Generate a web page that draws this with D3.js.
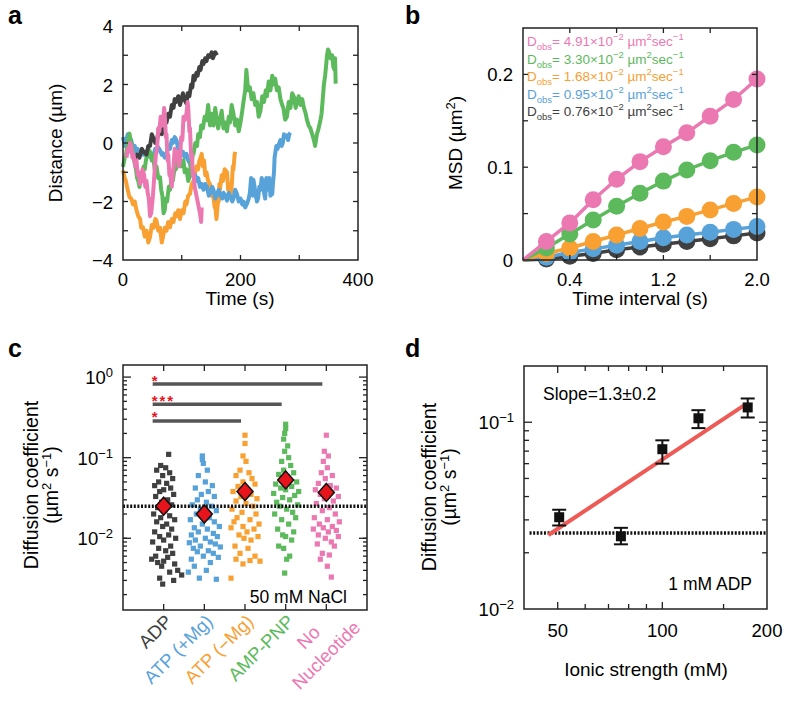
<!DOCTYPE html>
<html><head><meta charset="utf-8">
<script src="https://cdn.jsdelivr.net/npm/d3@7"></script>
<style>body{margin:0;background:#fff}svg{font-family:"Liberation Sans",Arial,sans-serif}</style>
</head><body><svg id="c" width="788" height="710"></svg>
<script>
// ---------- DATA ----------
const colors = {black:"#404040", blue:"#58a2da", orange:"#f8a032", green:"#5cba5c", pink:"#ec78b2"};
// panel a traces [time s, distance um]
const traceBlack = [[18,-0.6],[24,-0.4],[28,-0.5],[32,-0.2],[35,-0.3],[40,-0.4],[43,-0.1],[46,-0.1],[49,0.3],[51,0.2],[55,0.0],[58,0.1],[61,0.5],[63,0.45],[66,0.3],[68,0.4],[71,0.8],[74,0.7],[77,1.0],[80,0.9],[83,1.3],[86,1.2],[88,1.5],[90,1.4],[94,1.6],[97,1.3],[99,1.45],[102,1.7],[104,1.5],[108,1.35],[110,1.7],[113,1.6],[116,2.0],[118,1.9],[120,2.3],[122,2.15],[125,2.4],[127,2.3],[130,2.6],[132,2.5],[135,2.8],[137,2.7],[140,2.9],[142,2.8],[145,3.0],[148,2.95],[151,3.1],[153,2.9],[157,3.1],[160,3.0]];
const tracePink = [[6,-0.5],[8,-0.2],[10,-0.3],[12,0.0],[14,-0.1],[16,-0.5],[18,-0.4],[21,-0.8],[23,-0.6],[25,-1.1],[27,-1.0],[29,-1.4],[31,-1.3],[33,-0.9],[36,-1.1],[38,-1.5],[40,-1.3],[42,-1.7],[44,-1.9],[46,-2.5],[48,-2.4],[50,-2.0],[51,-1.8],[53,-1.2],[54,-0.9],[56,-0.4],[58,-0.2],[60,0.5],[62,0.4],[64,0.9],[65,0.8],[68,0.6],[70,1.2],[71,1.0],[73,0.2],[74,0.3],[76,-0.6],[77,-0.4],[79,-1.1],[80,-1.0],[83,-1.5],[85,-1.0],[86,-0.8],[88,-0.2],[90,-0.5],[92,-0.3],[95,-0.8],[97,-0.6],[99,0.2],[101,0.1],[103,0.9],[105,0.78],[108,1.0],[110,1.4],[111,1.23],[113,0.4],[114,0.5],[116,-0.5],[117,-0.37],[119,-1.1],[120,-1.0],[122,-1.5],[124,-1.7],[126,-1.9],[128,-2.1],[131,-2.4],[133,-2.7],[134,-2.2]];
const traceBlue = [[0,0.2],[3,-0.1],[5,0.05],[8,0.3],[11,0.0],[14,0.1],[17,-0.2],[20,-0.1],[22,-0.3],[25,-0.2],[28,-0.37],[31,-0.3],[35,-0.4],[38,-0.3],[40,-0.45],[43,-0.35],[46,-0.48],[49,-0.4],[52,-0.4],[55,-0.2],[57,-0.3],[60,-0.15],[63,-0.25],[66,-0.4],[68,-0.35],[71,-0.5],[74,-0.4],[77,-0.1],[80,-0.2],[83,0.1],[85,0.0],[88,0.2],[91,0.1],[94,-0.2],[96,-0.1],[99,-0.4],[102,-0.3],[105,-0.5],[108,-0.37],[111,-0.6],[114,-0.7],[117,-1.0],[120,-1.17],[123,-1.1],[126,-1.3],[128,-1.2],[131,-1.5],[134,-1.4],[137,-1.6],[140,-1.4],[143,-1.5],[146,-1.8],[149,-1.7],[152,-1.5],[154,-1.6],[157,-1.9],[160,-1.74],[163,-1.6],[166,-1.8],[169,-1.9],[171,-1.7],[174,-1.8],[177,-1.97],[180,-1.7],[183,-1.85],[186,-2.0],[188,-1.9],[191,-1.6],[194,-1.74],[197,-2.0],[200,-1.9],[203,-2.1],[205,-2.0],[208,-2.2],[211,-2.08],[214,-1.9],[216,-1.7],[218,-1.2],[219,-1.4],[221,-1.8],[222,-1.26],[224,-1.5],[226,-1.8],[228,-2.0],[230,-1.9],[232,-1.5],[234,-1.6],[236,-1.2],[238,-1.3],[240,-1.7],[242,-1.9],[244,-1.2],[245,-1.4],[247,-1.6],[249,-1.2],[251,-1.8],[254,-1.74],[256,-1.2],[257,-1.0],[258,-0.5],[259,-0.37],[261,-0.1],[263,-0.2],[266,0.0],[268,0.1],[270,-0.1],[272,0.0],[274,0.3],[276,0.2],[279,0.26],[281,0.1],[283,0.3],[285,0.35]];
const traceGreen = [[0,-0.82],[3,-0.5],[5,-0.4],[8,0.0],[11,0.32],[13,0.1],[15,-0.1],[18,-0.5],[20,-0.7],[22,-0.9],[24,-1.2],[26,-1.3],[28,-1.5],[30,-1.2],[33,-1.1],[35,-0.8],[37,-0.9],[39,-0.6],[40,-0.5],[43,-0.2],[46,-0.3],[49,-0.6],[51,-0.4],[54,-0.9],[57,-0.8],[60,-1.2],[63,-1.17],[65,-1.6],[67,-1.8],[69,-2.4],[71,-2.3],[73,-1.9],[75,-2.0],[78,-1.5],[80,-1.6],[83,-1.2],[85,-1.28],[88,-0.8],[90,-0.9],[93,-0.5],[96,-0.6],[99,-0.8],[103,-0.6],[105,-1.0],[108,-0.9],[111,-1.3],[114,-1.1],[116,-0.6],[117,-0.8],[119,-0.3],[120,-0.37],[123,0.0],[126,-0.1],[128,0.3],[131,0.2],[133,0.6],[136,0.5],[139,0.9],[142,0.78],[145,1.3],[148,0.6],[151,1.0],[154,0.6],[157,1.2],[159,0.9],[162,0.5],[165,0.8],[168,1.1],[171,0.5],[174,0.7],[177,0.4],[180,0.9],[182,0.7],[185,1.3],[188,1.0],[191,0.6],[194,0.8],[197,0.4],[200,0.7],[203,1.1],[205,1.4],[208,1.8],[210,2.5],[211,2.26],[213,1.8],[216,1.9],[219,1.5],[222,1.7],[225,1.3],[228,1.4],[231,0.9],[234,1.1],[237,1.6],[240,1.4],[243,1.8],[245,1.6],[248,2.1],[251,1.8],[254,2.3],[256,2.0],[259,2.2],[262,1.8],[265,1.9],[268,1.5],[271,1.3],[273,1.2],[276,0.8],[279,0.9],[282,1.4],[285,1.2],[288,1.7],[291,1.58],[294,1.2],[296,1.4],[299,1.6],[302,1.3],[305,1.5],[308,1.2],[311,1.0],[313,0.8],[316,0.6],[319,0.5],[322,0.3],[325,0.1],[327,-0.1],[330,0.3],[333,0.5],[336,0.78],[338,1.0],[340,1.5],[342,2.0],[344,2.3],[346,2.7],[347,2.95],[349,3.2],[351,3.1],[353,2.9],[356,3.0],[358,2.6],[360,2.5],[361,2.9],[362,2.03]];
const traceOrange = [[0,-0.94],[3,-1.2],[5,-1.3],[8,-1.6],[11,-1.85],[14,-1.9],[17,-2.1],[20,-2.0],[23,-2.3],[26,-2.5],[29,-2.6],[31,-2.9],[34,-2.88],[37,-3.2],[40,-3.0],[43,-3.4],[46,-3.22],[49,-2.8],[52,-2.9],[55,-2.6],[57,-2.65],[60,-3.0],[63,-2.9],[66,-3.4],[68,-3.22],[71,-2.9],[74,-3.0],[77,-2.7],[80,-2.88],[83,-2.6],[86,-2.7],[89,-2.4],[91,-2.5],[94,-2.3],[97,-2.6],[100,-2.3],[103,-2.4],[106,-2.0],[108,-2.1],[111,-1.8],[114,-1.74],[117,-1.4],[120,-1.3],[123,-1.0],[125,-0.8],[128,-0.9],[130,-0.6],[132,-0.5],[134,-0.37],[136,-0.8],[138,-0.6],[140,-1.1],[142,-1.0],[145,-1.3],[148,-1.4],[151,-1.8],[154,-1.85],[156,-2.2],[157,-2.1],[159,-2.6],[160,-2.4],[162,-1.9],[163,-2.0],[164,-1.4],[165,-1.6],[168,-1.1],[170,-1.3],[173,-0.9],[177,-1.0],[179,-1.6],[181,-1.4],[183,-1.8],[185,-1.5],[187,-0.8],[188,-0.9],[190,-0.4],[191,-0.3]];
const tracesA = [["orange",traceOrange],["blue",traceBlue],["green",traceGreen],["black",traceBlack],["pink",tracePink]];
// panel b
const lagTimes = [0.2,0.4,0.6,0.8,1.0,1.2,1.4,1.6,1.8,2.0];
const msdPink   = [0.020,0.040,0.065,0.087,0.106,0.122,0.137,0.155,0.173,0.195];
const msdGreen  = [0.013,0.028,0.043,0.058,0.072,0.085,0.097,0.107,0.116,0.124];
const msdOrange = [0.007,0.013,0.020,0.027,0.034,0.041,0.047,0.054,0.061,0.068];
const msdBlue   = [0.003,0.008,0.012,0.016,0.020,0.024,0.027,0.030,0.033,0.036];
const msdBlack  = [0.001,0.004,0.007,0.011,0.014,0.017,0.020,0.023,0.026,0.029];
const dobsLabels = ["4.91","3.30","1.68","0.95","0.76"];
const seriesB = [["black",msdBlack],["blue",msdBlue],["orange",msdOrange],["green",msdGreen],["pink",msdPink]];
const legendOrderB = ["pink","green","orange","blue","black"];
// panel c
const groupsC = ["ADP","ATP (+Mg)","ATP (\u2212Mg)","AMP-PNP","No Nucleotide"];
const groupColorsC = ["black","blue","orange","green","pink"];
const meansC = [0.025,0.020,0.038,0.053,0.037];
const ptsADP = [[5,0.11],[-3,0.08],[2,0.075],[-7,0.07],[6,0.065],[-1,0.06],[9,0.055],[-5,0.05],[3,0.048],[-9,0.045],[7,0.042],[0,0.04],[-4,0.038],[10,0.035],[-8,0.033],[4,0.03],[-2,0.028],[8,0.026],[-6,0.024],[1,0.022],[-10,0.02],[6,0.019],[-3,0.018],[11,0.017],[-7,0.016],[3,0.015],[-1,0.014],[8,0.013],[-9,0.012],[5,0.011],[-4,0.0105],[12,0.01],[0,0.0095],[-11,0.009],[7,0.008],[-5,0.0075],[2,0.007],[9,0.0065],[-8,0.006],[4,0.0058],[-12,0.0055],[0,0.0052],[-6,0.005],[11,0.0048],[-2,0.0045],[14,0.004],[6,0.0038],[18,0.0035],[-4,0.0032],[10,0.003],[-1,0.0027]];
const ptsATPMg = [[-2,0.105],[-2,0.095],[-1,0.085],[3,0.07],[-6,0.06],[1,0.05],[8,0.045],[-9,0.042],[4,0.038],[-3,0.035],[10,0.033],[-7,0.03],[2,0.028],[-12,0.026],[7,0.025],[-4,0.023],[12,0.022],[0,0.021],[-8,0.02],[5,0.018],[-14,0.017],[10,0.016],[-2,0.015],[15,0.014],[-10,0.0135],[3,0.013],[-6,0.012],[9,0.0115],[-13,0.011],[13,0.0105],[1,0.01],[-9,0.0095],[6,0.009],[-15,0.0088],[11,0.0085],[-4,0.008],[16,0.0078],[-11,0.0075],[4,0.007],[-7,0.0068],[9,0.0065],[-1,0.006],[14,0.0058],[-13,0.0055],[6,0.005],[-10,0.0045],[2,0.004],[-16,0.0038],[-5,0.0032],[12,0.0031]];
const ptsATPnoMg = [[0,0.19],[0,0.15],[-2,0.105],[1,0.09],[-5,0.07],[4,0.065],[-9,0.06],[7,0.055],[-2,0.05],[10,0.047],[-7,0.044],[3,0.04],[-12,0.038],[6,0.035],[-4,0.033],[12,0.031],[-9,0.029],[1,0.027],[8,0.025],[-13,0.023],[-3,0.021],[11,0.02],[-8,0.018],[5,0.017],[-11,0.016],[14,0.015],[-2,0.014],[-14,0.0135],[9,0.013],[2,0.012],[-6,0.011],[13,0.0105],[-1,0.01],[6,0.0095],[-10,0.008],[3,0.0075],[-5,0.0065],[10,0.006],[-9,0.0055],[5,0.0053],[-2,0.0048],[15,0.0052],[-14,0.0032]];
const ptsAMPPNP = [[0,0.26],[0,0.23],[-1,0.2],[-2,0.17],[2,0.14],[-1,0.12],[3,0.1],[-4,0.09],[5,0.08],[-2,0.07],[8,0.065],[-7,0.062],[2,0.058],[11,0.05],[-10,0.047],[6,0.044],[-5,0.042],[0,0.04],[13,0.038],[-12,0.036],[9,0.034],[-3,0.032],[4,0.03],[-9,0.028],[12,0.026],[-6,0.025],[1,0.023],[7,0.021],[-11,0.02],[10,0.018],[-4,0.017],[3,0.015],[-8,0.013],[8,0.012],[-3,0.011],[0,0.0105],[6,0.0095],[-7,0.008],[-2,0.0075],[4,0.006],[1,0.0055],[-1,0.0037]];
const ptsNoNuc = [[0,0.19],[-2,0.12],[2,0.105],[-3,0.09],[1,0.075],[-5,0.065],[6,0.06],[-1,0.055],[-8,0.048],[4,0.045],[10,0.042],[-11,0.04],[2,0.038],[-6,0.035],[12,0.033],[-2,0.031],[7,0.029],[-10,0.027],[3,0.024],[-4,0.022],[9,0.02],[-12,0.018],[1,0.017],[13,0.016],[-7,0.015],[6,0.014],[-3,0.0135],[-13,0.013],[10,0.0125],[2,0.012],[-8,0.011],[12,0.0105],[-1,0.01],[5,0.009],[-9,0.0085],[8,0.008],[-4,0.0065],[3,0.0062],[-6,0.0055],[1,0.0045],[5,0.0033]];
const pointsC = [ptsADP,ptsATPMg,ptsATPnoMg,ptsAMPPNP,ptsNoNuc];
const refLineC = 0.025;
const sigBars = [[0,4,"*"],[0,3,"***"],[0,2,"*"]];
const sigBarY = [0.82,0.46,0.286];
// panel d
const ionic = [50.5,76,100,127,176];
const dcoef = [0.031,0.0245,0.0717,0.105,0.120];
const dLow  = [0.028,0.0222,0.060,0.093,0.106];
const dHigh = [0.034,0.0272,0.080,0.116,0.134];
const fitX = [47,174], fitY = [0.0249,0.125];
const refLineD = 0.0255;

// ---------- DRAW ----------
const svg = d3.select("#c");
const FS = 18.5;
function frame(g,x0,x1,y0,y1){
  g.append("rect").attr("x",x0).attr("y",y0).attr("width",x1-x0).attr("height",y1-y0)
   .attr("fill","none").attr("stroke","#222").attr("stroke-width",1.5);
}
function tickMarks(g,xs,ys,x0,x1,y0,y1){
  xs.forEach(([p,l])=>{g.append("line").attr("x1",p).attr("x2",p).attr("y1",y1).attr("y2",y1-l).attr("stroke","#222").attr("stroke-width",1.3);
    g.append("line").attr("x1",p).attr("x2",p).attr("y1",y0).attr("y2",y0+l).attr("stroke","#222").attr("stroke-width",1.3);});
  ys.forEach(([p,l])=>{g.append("line").attr("y1",p).attr("y2",p).attr("x1",x0).attr("x2",x0+l).attr("stroke","#222").attr("stroke-width",1.3);
    g.append("line").attr("y1",p).attr("y2",p).attr("x1",x1).attr("x2",x1-l).attr("stroke","#222").attr("stroke-width",1.3);});
}
function label(t,x,y){svg.append("text").attr("x",x).attr("y",y).attr("font-size",25).attr("font-weight","bold").text(t);}
function txt(x,y,s,anchor,size){return svg.append("text").attr("x",x).attr("y",y).attr("font-size",size||FS).attr("text-anchor",anchor||"middle").text(s);}
function pow10(x,y,e,anchor){const t=svg.append("text").attr("x",x).attr("y",y).attr("font-size",FS).attr("text-anchor",anchor||"end");
  t.append("tspan").text("10"); t.append("tspan").attr("dy",-7).attr("font-size",13).text(e); return t;}

// Panel a
{
  const x0=123,x1=358,y0=26,y1=260;
  const x=d3.scaleLinear().domain([0,400]).range([x0,x1]);
  const y=d3.scaleLinear().domain([-4,4]).range([y1,y0]);
  const g=svg.append("g");
  const line=d3.line().x(d=>x(d[0])).y(d=>y(d[1]));
  tracesA.forEach(([c,data])=>g.append("path").attr("d",line(data)).attr("fill","none").attr("stroke",colors[c]).attr("stroke-width",4).attr("stroke-linejoin","round"));
  frame(g,x0,x1,y0,y1);
  tickMarks(g,[100,200,300].map(v=>[x(v),5]),[-3,-2,-1,0,1,2,3].map(v=>[y(v),5]),x0,x1,y0,y1);
  [0,200,400].forEach(v=>txt(x(v),286,v));
  [4,2,0,-2,-4].forEach(v=>txt(113,y(v)+7,v<0?"\u2212"+(-v):v,"end"));
  txt(240,305,"Time (s)",null,19);
  svg.append("text").attr("transform","translate(62,143) rotate(-90)").attr("font-size",19).attr("text-anchor","middle").text("Distance (\u00b5m)");
  label("a",8,24);
}
// Panel b
{
  const x0=523,x1=757,y0=28,y1=260;
  const x=d3.scaleLinear().domain([0,2.0]).range([x0,x1]);
  const y=d3.scaleLinear().domain([0,0.25]).range([y1,y0]);
  const g=svg.append("g");
  const line=d3.line().x(d=>x(d[0])).y(d=>y(d[1]));
  seriesB.forEach(([c,vals])=>{
    const pts=[[0,0]].concat(lagTimes.map((t,i)=>[t,vals[i]]));
    g.append("path").attr("d",line(pts)).attr("fill","none").attr("stroke",colors[c]).attr("stroke-width",3.5);
    g.selectAll(null).data(lagTimes).enter().append("circle").attr("cx",d=>x(d)).attr("cy",(d,i)=>y(vals[i])).attr("r",8.5).attr("fill",colors[c]);
  });
  frame(g,x0,x1,y0,y1);
  tickMarks(g,[0.4,0.8,1.2,1.6].map(v=>[x(v),5]),[0.05,0.1,0.15,0.2].map(v=>[y(v),5]),x0,x1,y0,y1);
  [0.4,1.2,2.0].forEach(v=>txt(x(v),286,v.toFixed(1)));
  [[0,"0"],[0.1,"0.1"],[0.2,"0.2"]].forEach(([v,s])=>txt(513,y(v)+7,s,"end"));
  txt(640,305,"Time interval (s)",null,19);
  const t=svg.append("text").attr("transform","translate(462,143) rotate(-90)").attr("font-size",19).attr("text-anchor","middle");
  t.append("tspan").text("MSD (\u00b5m"); t.append("tspan").attr("dy",-7).attr("font-size",13).text("2"); t.append("tspan").attr("dy",7).text(")");
  legendOrderB.forEach((c,i)=>{
    const tt=svg.append("text").attr("x",527).attr("y",46+i*17.5).attr("font-size",13.5).attr("fill",colors[c]);
    tt.append("tspan").text("D"); tt.append("tspan").attr("dy",4).attr("font-size",9.5).text("obs");
    tt.append("tspan").attr("dy",-4).text("= "+dobsLabels[i]+"\u00d710");
    tt.append("tspan").attr("dy",-6).attr("font-size",9.5).text("\u22122");
    tt.append("tspan").attr("dy",6).text(" \u00b5m");
    tt.append("tspan").attr("dy",-6).attr("font-size",9.5).text("2");
    tt.append("tspan").attr("dy",6).text("sec");
    tt.append("tspan").attr("dy",-6).attr("font-size",9.5).text("\u22121");
  });
  label("b",405,24);
}
// Panel c
{
  const x0=123,x1=367,y0=365,y1=610;
  const x=d3.scalePoint().domain(groupsC).range([x0,x1]).padding(1);
  const y=d3.scaleLog().domain([Math.pow(10,-2.89),Math.pow(10,0.15)]).range([y1,y0]);
  const g=svg.append("g");
  pointsC.forEach((pts,gi)=>{
    const cx=x(groupsC[gi]);
    g.selectAll(null).data(pts).enter().append("rect").attr("x",d=>cx+d[0]-2.6).attr("y",d=>y(d[1])-2.6).attr("width",5.2).attr("height",5.2).attr("fill",colors[groupColorsC[gi]]);
  });
  g.append("line").attr("x1",x0).attr("x2",x1).attr("y1",y(refLineC)).attr("y2",y(refLineC)).attr("stroke","#111").attr("stroke-width",3.5).attr("stroke-dasharray","2,1.6");
  meansC.forEach((m,i)=>{const cx=x(groupsC[i]),cy=y(m);
    g.append("path").attr("d",`M${cx},${cy-9}L${cx+8},${cy}L${cx},${cy+9}L${cx-8},${cy}Z`).attr("fill","#e8141c").attr("stroke","#111").attr("stroke-width",1.5);});
  sigBars.forEach(([a,b,s],i)=>{
    const yy=y(sigBarY[i]);
    g.append("line").attr("x1",x(groupsC[a])-11).attr("x2",x(groupsC[b])-4).attr("y1",yy).attr("y2",yy).attr("stroke","#555").attr("stroke-width",3.5);
    svg.append("text").attr("x",x(groupsC[a])-12).attr("y",yy+1.5).attr("font-size",15).attr("font-weight","bold").attr("letter-spacing",2).attr("fill","#e8141c").text(s);
  });
  frame(g,x0,x1,y0,y1);
  const minor=[];[0.002,0.01,0.1].forEach(b=>{for(let k=(b===0.002?1:2);k<=9;k++){const v=b===0.002?0.001*(k+1):b*k; if(v>y.domain()[0]&&v<y.domain()[1]) minor.push(v);}});
  tickMarks(g,groupsC.map(d=>[x(d),6]),[[y(1),8],[y(0.1),8],[y(0.01),8]].concat(minor.map(v=>[y(v),4])),x0,x1,y0,y1);
  pow10(113,y(1)+7,"0"); pow10(113,y(0.1)+7,"\u22121"); pow10(113,y(0.01)+7,"\u22122");
  txt(347,603,"50 mM NaCl","end",17.5);
  groupsC.forEach((gname,i)=>{
    const tx=x(gname);
    if(i===4){
      const gg=svg.append("g").attr("transform",`translate(${tx},620) rotate(-45)`);
      gg.append("text").attr("x",-25).attr("y",6).attr("text-anchor","middle").attr("font-size",18.5).attr("fill",colors.pink).text("No");
      gg.append("text").attr("x",-25).attr("y",31).attr("text-anchor","middle").attr("font-size",18.5).attr("fill",colors.pink).text("Nucleotide");
    } else {
      svg.append("text").attr("transform",`translate(${tx+5},618) rotate(-45)`).attr("text-anchor","end").attr("dy","0.35em").attr("font-size",18.5).attr("fill",colors[groupColorsC[i]]).text(gname);
    }
  });
  svg.append("text").attr("transform","translate(38,485) rotate(-90)").attr("font-size",19.5).attr("text-anchor","middle").text("Diffusion coefficient");
  const t=svg.append("text").attr("transform","translate(58,485) rotate(-90)").attr("font-size",19.5).attr("text-anchor","middle");
  t.append("tspan").text("(\u00b5m"); t.append("tspan").attr("dy",-7).attr("font-size",13).text("2");
  t.append("tspan").attr("dy",7).text(" s"); t.append("tspan").attr("dy",-7).attr("font-size",13).text("\u22121"); t.append("tspan").attr("dy",7).text(")");
  label("c",8,357);
}
// Panel d
{
  const x0=524,x1=767,y0=366,y1=609;
  const x=d3.scaleLog().domain([40,200]).range([x0,x1]);
  const y=d3.scaleLog().domain([0.01,0.2]).range([y1,y0]);
  const g=svg.append("g");
  g.append("line").attr("x1",x(41.5)).attr("x2",x1).attr("y1",y(refLineD)).attr("y2",y(refLineD)).attr("stroke","#111").attr("stroke-width",3.5).attr("stroke-dasharray","2,1.6");
  g.append("line").attr("x1",x(fitX[0])).attr("x2",x(fitX[1])).attr("y1",y(fitY[0])).attr("y2",y(fitY[1])).attr("stroke","#ee5a55").attr("stroke-width",4);
  ionic.forEach((iv,i)=>{const cx=x(iv);
    g.append("line").attr("x1",cx).attr("x2",cx).attr("y1",y(dLow[i])).attr("y2",y(dHigh[i])).attr("stroke","#111").attr("stroke-width",2);
    [dLow[i],dHigh[i]].forEach(v=>g.append("line").attr("x1",cx-7).attr("x2",cx+7).attr("y1",y(v)).attr("y2",y(v)).attr("stroke","#111").attr("stroke-width",2));
    g.append("rect").attr("x",cx-5).attr("y",y(dcoef[i])-5).attr("width",10).attr("height",10).attr("fill","#111");
  });
  frame(g,x0,x1,y0,y1);
  const minY=[0.02,0.03,0.04,0.05,0.06,0.07,0.08,0.09];
  tickMarks(g,[50,60,70,80,90,100,150].map(v=>[x(v),v===50||v===100?7:5]),[[y(0.1),8]].concat(minY.map(v=>[y(v),5])),x0,x1,y0,y1);
  pow10(514,y(0.1)+7,"\u22121"); pow10(514,y(0.01)+7,"\u22122");
  [50,100,200].forEach(v=>txt(x(v),y1+28,v));
  txt(646,676,"Ionic strength (mM)",null,19);
  txt(543,400,"Slope=1.3\u00b10.2","start",17.5);
  txt(752,590,"1 mM ADP","end",17.5);
  svg.append("text").attr("transform","translate(436,487) rotate(-90)").attr("font-size",19.5).attr("text-anchor","middle").text("Diffusion coefficient");
  const t=svg.append("text").attr("transform","translate(456,487) rotate(-90)").attr("font-size",19.5).attr("text-anchor","middle");
  t.append("tspan").text("(\u00b5m"); t.append("tspan").attr("dy",-7).attr("font-size",13).text("2");
  t.append("tspan").attr("dy",7).text(" s"); t.append("tspan").attr("dy",-7).attr("font-size",13).text("\u22121"); t.append("tspan").attr("dy",7).text(")");
  label("d",405,357);
}
</script></body></html>
